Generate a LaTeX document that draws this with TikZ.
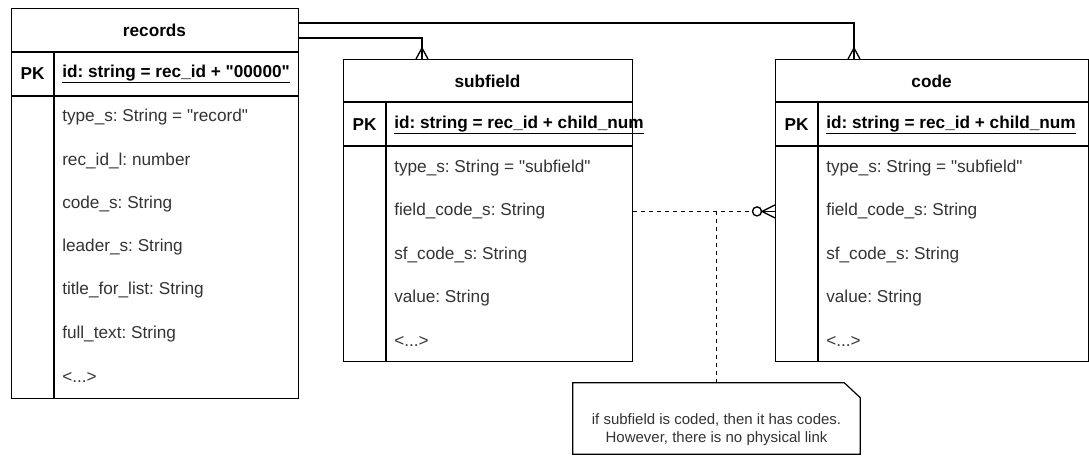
\documentclass[tikz,border=0pt]{standalone}
\usepackage{fontspec}
\setmainfont{Liberation Sans}[Ligatures=TeXOff]
\usetikzlibrary{calc}
\frenchspacing

\newcommand\morerows{<...>}

\tikzset{
	frame/.style={draw, line width=1pt, anchor=north west, inner sep=0pt},
	head/.style={inner sep=0pt, font=\fontsize{12.9}{15}\selectfont\bfseries},
	key/.style={anchor=west, inner sep=0pt, font=\fontsize{12.9}{15}\selectfont\bfseries},
	attr/.style={anchor=west, inner sep=0pt, text=black!80, font=\fontsize{12.9}{15}\selectfont},
	link/.style={line width=1pt},
	weak/.style={line width=1pt, dash pattern=on 3pt off 3pt},
}

\begin{document}
\begin{tikzpicture}[x=0.75pt,y=-0.75pt]
		\useasboundingbox (0,0) rectangle (1089,457);
		% records
		\node[frame, minimum width=287*0.75pt, minimum height=390*0.75pt] (records) at (11,8) {};
		\draw[link] (11,52) -- (298,52) (11,96) -- (298,96) (54,52) -- (54,398);
		\node[head] (rectitle) at (154.5,30) {records};
		\node[head] (recpk) at (32.5,74) {PK};
		\node[key] (recid) at (62,74) {\underline{id: string = rec\_id + "00000"}};
		\foreach \t [count=\i] in {type\_s: String = "record", rec\_id\_l: number, code\_s: String, leader\_s: String, title\_for\_list: String, full\_text: String, \morerows}
			\node[attr] (rec\i) at (62,74+43.3*\i) {\t};
		% subfield
		\node[frame, minimum width=289*0.75pt, minimum height=302*0.75pt] (subfield) at (343,59) {};
		\draw[link] (343,102) -- (632,102) (343,146) -- (632,146) (386,102) -- (386,361);
		\node[head] (sftitle) at (487.5,81) {subfield};
		\node[head] (sfpk) at (364.5,125) {PK};
		\node[key] (sfid) at (394,125) {\underline{id: string = rec\_id + child\_num}};
		\foreach \t [count=\i] in {type\_s: String = "subfield", field\_code\_s: String, sf\_code\_s: String, value: String, \morerows}
			\node[attr] (sf\i) at (394,125+43.2*\i) {\t};
		% code
		\node[frame, minimum width=313*0.75pt, minimum height=302*0.75pt] (code) at (775,59) {};
		\draw[link] (775,102) -- (1088,102) (775,146) -- (1088,146) (818,102) -- (818,361);
		\node[head] (cdtitle) at (931.5,81) {code};
		\node[head] (cdpk) at (796.5,125) {PK};
		\node[key] (cdid) at (826,125) {\underline{id: string = rec\_id + child\_num}};
		\foreach \t [count=\i] in {type\_s: String = "subfield", field\_code\_s: String, sf\_code\_s: String, value: String, \morerows}
			\node[attr] (cd\i) at (826,125+43.2*\i) {\t};
		% one-to-many links
		\coordinate (sfin) at ($(subfield.north west)+(79,0)$);
		\coordinate (cdin) at ($(code.north west)+(79,0)$);
		\draw[link] (records.north east) ++(0,15) -| (cdin);
		\draw[link] (records.north east) ++(0,30) -| (sfin);
		\draw[link] ($(sfin)+(-6,0)$) -- ($(sfin)+(0,-11)$) -- ($(sfin)+(6,0)$);
		\draw[link] ($(cdin)+(-6,0)$) -- ($(cdin)+(0,-11)$) -- ($(cdin)+(6,0)$);
		% logical link subfield -> code
		\draw[weak] (subfield.east |- sf2) -- ($(code.west |- cd2)+(-22.5,0)$);
		\draw[link] ($(code.west |- cd2)+(-18,0)$) circle (3.4pt);
		\draw[link] ($(code.west |- cd2)+(-13.5,0)$) -- (code.west |- cd2);
		\draw[link] ($(code.west |- cd2)+(0,-6.5)$) -- ($(code.west |- cd2)+(-13,0)$) -- ($(code.west |- cd2)+(0,6.5)$);
		% note
		\node[minimum width=287*0.75pt, minimum height=71*0.75pt, inner sep=0pt] (note) at (716.5,418.5) {};
		\draw[line width=0.9pt] (note.south west) -- (note.north west) -- ($(note.north east)+(-16,0)$) -- ($(note.north east)+(0,15)$) -- (note.south east) -- cycle;
		\node[align=center, text=black!80, font=\fontsize{11.25}{13.5}\selectfont] (notetext) at (716.5,430) {if subfield is coded, then it has codes.\\However, there is no physical link};
		\draw[weak] (note.north |- sf2) -- (note.north);
	\end{tikzpicture}
\end{document}
